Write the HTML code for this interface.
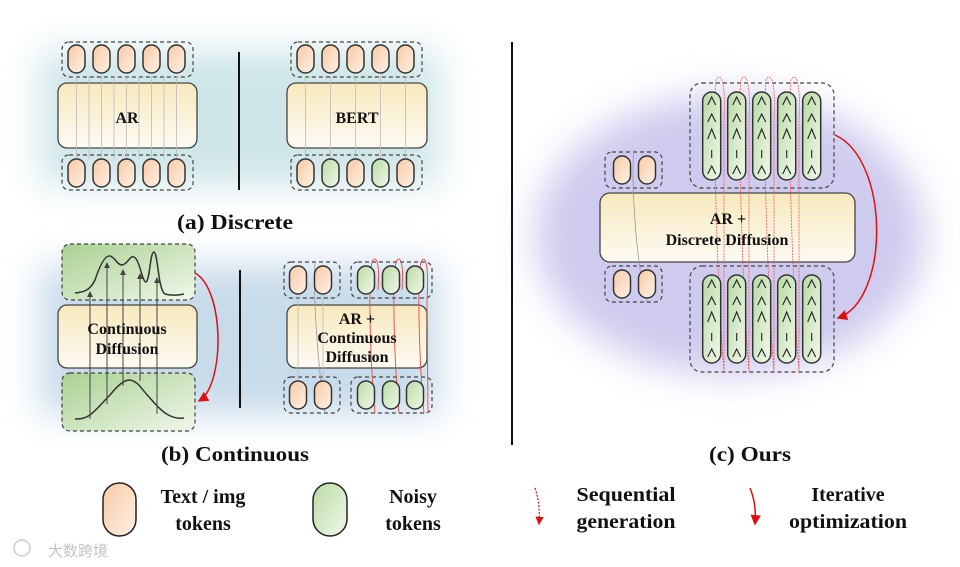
<!DOCTYPE html>
<html><head><meta charset="utf-8"><style>
html,body{margin:0;padding:0;background:#fff;}
svg{display:block;}
text{font-family:"Liberation Serif",serif;font-weight:bold;fill:#111;}
</style></head><body>
<svg width="960" height="567" viewBox="0 0 960 567" xmlns="http://www.w3.org/2000/svg">
<defs>
<filter id="blur" x="-50%" y="-50%" width="200%" height="200%"><feGaussianBlur stdDeviation="18"/></filter>
<linearGradient id="og" x1="0" y1="0" x2="1" y2="1"><stop offset="0" stop-color="#f9c9a3"/><stop offset="1" stop-color="#fdf1e8"/></linearGradient>
<linearGradient id="gg" x1="0" y1="0" x2="1" y2="1"><stop offset="0" stop-color="#b9dba3"/><stop offset="1" stop-color="#f1f8ec"/></linearGradient>
<linearGradient id="yb" x1="0" y1="0" x2="0" y2="1"><stop offset="0" stop-color="#f8e9bd"/><stop offset="1" stop-color="#fcfaf3"/></linearGradient>
<linearGradient id="gb" x1="0" y1="0" x2="1" y2="1"><stop offset="0" stop-color="#a9d191"/><stop offset="1" stop-color="#f0f7ea"/></linearGradient>
<g id="ot"><rect x="-8.5" y="0" width="17" height="28" rx="8.5" fill="url(#og)" stroke="#333" stroke-width="1.5"/></g>
<g id="gt"><rect x="-8.5" y="0" width="17" height="28" rx="8.5" fill="url(#gg)" stroke="#333" stroke-width="1.5"/></g>
<g id="lp"><rect x="-9" y="0" width="18" height="88" rx="9" fill="url(#gg)" stroke="#333" stroke-width="1.5"/>
<path d="M-4 13 L0 5 L4 13 M-4 30 L0 22 L4 30 M-4 47 L0 37 L4 47 M0 58 V66 M-4 82 L0 74 L4 82" fill="none" stroke="#222" stroke-width="1.1"/></g>
<marker id="ar" markerWidth="6" markerHeight="6" refX="5" refY="3" orient="auto"><path d="M0 0 L6 3 L0 6z" fill="#444"/></marker>
<marker id="rr" markerWidth="7" markerHeight="7" refX="6" refY="3.5" orient="auto"><path d="M0 0 L7 3.5 L0 7z" fill="#e01010"/></marker>
</defs>

<g filter="url(#blur)">
<rect x="40" y="50" width="400" height="135" fill="#cfe6e8"/>
<rect x="40" y="265" width="400" height="150" fill="#c8dbea"/>
<ellipse cx="730" cy="235" rx="195" ry="140" fill="#cfcbee"/>
</g>

<!-- (a) AR -->
<rect x="62" y="42" width="131" height="35" rx="7" fill="none" stroke="#444" stroke-width="1.2" stroke-dasharray="4,3"/>
<rect x="62" y="155" width="131" height="35" rx="7" fill="none" stroke="#444" stroke-width="1.2" stroke-dasharray="4,3"/>
<rect x="58" y="83" width="139" height="65" rx="9" fill="url(#yb)" stroke="#444" stroke-width="1.3"/>
<g stroke="#bbb" stroke-width="0.8"><line x1="76.5" y1="76" x2="76.5" y2="159"/><line x1="101.5" y1="76" x2="101.5" y2="159"/><line x1="126.5" y1="76" x2="126.5" y2="159"/><line x1="151.5" y1="76" x2="151.5" y2="159"/><line x1="176.5" y1="76" x2="176.5" y2="159"/>
<line x1="89" y1="76" x2="89" y2="159"/><line x1="114" y1="76" x2="114" y2="159"/><line x1="139" y1="76" x2="139" y2="159"/><line x1="164" y1="76" x2="164" y2="159"/></g>
<use href="#ot" x="76.5" y="45"/><use href="#ot" x="101.5" y="45"/><use href="#ot" x="126.5" y="45"/><use href="#ot" x="151.5" y="45"/><use href="#ot" x="176.5" y="45"/>
<use href="#ot" x="76.5" y="159"/><use href="#ot" x="101.5" y="159"/><use href="#ot" x="126.5" y="159"/><use href="#ot" x="151.5" y="159"/><use href="#ot" x="176.5" y="159"/>
<text x="127" y="123" font-size="16" text-anchor="middle">AR</text>
<line x1="239" y1="52" x2="239" y2="190" stroke="#111" stroke-width="2"/>

<!-- (a) BERT -->
<rect x="291" y="42" width="131" height="35" rx="7" fill="none" stroke="#444" stroke-width="1.2" stroke-dasharray="4,3"/>
<rect x="291" y="155" width="131" height="35" rx="7" fill="none" stroke="#444" stroke-width="1.2" stroke-dasharray="4,3"/>
<rect x="287" y="83" width="140" height="65" rx="9" fill="url(#yb)" stroke="#444" stroke-width="1.3"/>
<g stroke="#bbb" stroke-width="0.8"><line x1="305.5" y1="76" x2="305.5" y2="159"/><line x1="330.5" y1="76" x2="330.5" y2="159"/><line x1="355.5" y1="76" x2="355.5" y2="159"/><line x1="380.5" y1="76" x2="380.5" y2="159"/><line x1="405.5" y1="76" x2="405.5" y2="159"/></g>
<use href="#ot" x="305.5" y="45"/><use href="#ot" x="330.5" y="45"/><use href="#ot" x="355.5" y="45"/><use href="#ot" x="380.5" y="45"/><use href="#ot" x="405.5" y="45"/>
<use href="#ot" x="305.5" y="159"/><use href="#gt" x="330.5" y="159"/><use href="#ot" x="355.5" y="159"/><use href="#gt" x="380.5" y="159"/><use href="#ot" x="405.5" y="159"/>
<text x="357" y="123" font-size="16" text-anchor="middle">BERT</text>

<text x="235" y="229" font-size="21" text-anchor="middle" textLength="116" lengthAdjust="spacingAndGlyphs">(a)  Discrete</text>

<!-- (b) continuous -->
<rect x="62" y="244" width="133" height="56" rx="8" fill="url(#gb)" stroke="#444" stroke-width="1.2" stroke-dasharray="4,3"/>
<rect x="62" y="373" width="133" height="58" rx="8" fill="url(#gb)" stroke="#444" stroke-width="1.2" stroke-dasharray="4,3"/>
<rect x="58" y="305" width="139" height="63" rx="9" fill="url(#yb)" stroke="#444" stroke-width="1.3"/>
<path d="M75 293 C85 292 90 290 95 280 C100 265 105 255 110 256 C115 257 117 265 122 265 C128 264 130 255 134 257 C140 260 142 282 146 282 C150 280 150 252 154 252 C158 253 158 290 165 294 C172 296 180 295 184 294" fill="none" stroke="#333" stroke-width="1.5"/>
<path d="M75 419 C90 420 95 410 110 395 C118 385 124 380 130 380 C138 381 142 390 150 398 C160 410 170 420 184 418" fill="none" stroke="#333" stroke-width="1.5"/>
<g stroke="#444" stroke-width="1" marker-end="url(#ar)"><line x1="90" y1="419" x2="90" y2="292"/><line x1="107" y1="404" x2="107" y2="263"/><line x1="123" y1="386" x2="123" y2="270"/><line x1="140" y1="381" x2="140" y2="274"/><line x1="157" y1="414" x2="157" y2="278"/></g>
<text x="127" y="334" font-size="16" text-anchor="middle">Continuous</text>
<text x="127" y="354" font-size="16" text-anchor="middle">Diffusion</text>
<path d="M195 273 C225 290 225 385 199 401" fill="none" stroke="#e01010" stroke-width="1.5" marker-end="url(#rr)"/>
<line x1="240" y1="270" x2="240" y2="408" stroke="#111" stroke-width="2"/>

<!-- (b) AR+continuous -->
<rect x="284" y="262" width="56" height="36" rx="7" fill="none" stroke="#444" stroke-width="1.2" stroke-dasharray="4,3"/>
<rect x="351" y="262" width="81" height="36" rx="7" fill="none" stroke="#444" stroke-width="1.2" stroke-dasharray="4,3"/>
<rect x="284" y="377" width="56" height="36" rx="7" fill="none" stroke="#444" stroke-width="1.2" stroke-dasharray="4,3"/>
<rect x="351" y="377" width="81" height="36" rx="7" fill="none" stroke="#444" stroke-width="1.2" stroke-dasharray="4,3"/>
<rect x="287" y="305" width="140" height="63" rx="9" fill="url(#yb)" stroke="#444" stroke-width="1.3"/>
<g stroke="#bbb" stroke-width="0.8"><line x1="298" y1="296" x2="298" y2="380"/><line x1="323" y1="296" x2="323" y2="380"/></g>
<g fill="none" stroke="#e44" stroke-width="0.9"><path d="M375 413 C370 360 368 280 372 262 C376 254 380 262 378 290"/><path d="M399 413 C394 360 392 280 396 262 C400 254 404 262 402 290"/><path d="M424 413 C419 360 417 280 421 262 C425 254 429 262 427 300 L428 413"/></g>
<path d="M325 413 C317 360 313 290 315 262" fill="none" stroke="#999" stroke-width="0.8"/>
<use href="#ot" x="298" y="266"/><use href="#ot" x="323" y="266"/>
<use href="#gt" x="366" y="266"/><use href="#gt" x="391" y="266"/><use href="#gt" x="415" y="266"/>
<use href="#ot" x="298" y="381"/><use href="#ot" x="323" y="381"/>
<use href="#gt" x="366" y="381"/><use href="#gt" x="391" y="381"/><use href="#gt" x="415" y="381"/>
<text x="357" y="324" font-size="16" text-anchor="middle">AR +</text>
<text x="357" y="343" font-size="16" text-anchor="middle">Continuous</text>
<text x="357" y="362" font-size="16" text-anchor="middle">Diffusion</text>

<text x="235" y="461" font-size="21" text-anchor="middle" textLength="148" lengthAdjust="spacingAndGlyphs">(b)  Continuous</text>

<line x1="512" y1="42" x2="512" y2="445" stroke="#111" stroke-width="2"/>

<!-- (c) -->
<rect x="605" y="152" width="57" height="36" rx="7" fill="none" stroke="#444" stroke-width="1.2" stroke-dasharray="4,3"/>
<rect x="605" y="266" width="57" height="36" rx="7" fill="none" stroke="#444" stroke-width="1.2" stroke-dasharray="4,3"/>
<rect x="690" y="83" width="144" height="105" rx="12" fill="none" stroke="#444" stroke-width="1.2" stroke-dasharray="4,3"/>
<rect x="690" y="266" width="144" height="106" rx="12" fill="none" stroke="#444" stroke-width="1.2" stroke-dasharray="4,3"/>
<rect x="600" y="193" width="255" height="69" rx="10" fill="url(#yb)" stroke="#444" stroke-width="1.3"/>
<g fill="none" stroke="#e55" stroke-width="0.8" stroke-dasharray="2,1"><path d="M724 372 C718 300 712 120 716 80 C720 72 726 78 724 120 L724 372"/><path d="M749 372 C743 300 737 120 741 80 C745 72 751 78 749 120 L749 372"/><path d="M774 372 C768 300 762 120 766 80 C770 72 776 78 774 120 L774 372"/><path d="M799 372 C793 300 787 120 791 80 C795 72 801 78 799 120 L799 372"/></g>
<path d="M647 302 C638 280 630 180 634 150" fill="none" stroke="#999" stroke-width="0.8"/>
<use href="#ot" x="622" y="156"/><use href="#ot" x="647" y="156"/>
<use href="#ot" x="622" y="270"/><use href="#ot" x="647" y="270"/>
<use href="#lp" x="711.7" y="92"/><use href="#lp" x="736.7" y="92"/><use href="#lp" x="761.7" y="92"/><use href="#lp" x="786.7" y="92"/><use href="#lp" x="811.7" y="92"/>
<use href="#lp" x="711.7" y="275"/><use href="#lp" x="736.7" y="275"/><use href="#lp" x="761.7" y="275"/><use href="#lp" x="786.7" y="275"/><use href="#lp" x="811.7" y="275"/>
<text x="728" y="224" font-size="16" text-anchor="middle">AR +</text>
<text x="727" y="245" font-size="16" text-anchor="middle">Discrete Diffusion</text>
<path d="M835 135 C890 160 890 300 838 318" fill="none" stroke="#e01010" stroke-width="1.5" marker-end="url(#rr)"/>

<text x="750" y="461" font-size="21" text-anchor="middle" textLength="82" lengthAdjust="spacingAndGlyphs">(c)  Ours</text>

<!-- legend -->
<rect x="103" y="483" width="33" height="53" rx="16.5" fill="url(#og)" stroke="#222" stroke-width="1.5"/>
<text x="203" y="503" font-size="20" text-anchor="middle">Text / img</text>
<text x="203" y="530" font-size="20" text-anchor="middle">tokens</text>
<rect x="313" y="483" width="34" height="53" rx="17" fill="url(#gg)" stroke="#222" stroke-width="1.5"/>
<text x="413" y="503" font-size="20" text-anchor="middle">Noisy</text>
<text x="413" y="530" font-size="20" text-anchor="middle">tokens</text>
<path d="M535 488 C539 500 540 512 539 524" fill="none" stroke="#e01010" stroke-width="1.2" stroke-dasharray="2,1.5" marker-end="url(#rr)"/>
<text x="626" y="501" font-size="20" text-anchor="middle" textLength="99" lengthAdjust="spacingAndGlyphs">Sequential</text>
<text x="626" y="528" font-size="20" text-anchor="middle" textLength="99" lengthAdjust="spacingAndGlyphs">generation</text>
<path d="M750 488 C755 500 756 512 755 524" fill="none" stroke="#e01010" stroke-width="1.5" marker-end="url(#rr)"/>
<text x="848" y="501" font-size="20" text-anchor="middle">Iterative</text>
<text x="848" y="528" font-size="20" text-anchor="middle" textLength="118" lengthAdjust="spacingAndGlyphs">optimization</text>

<text x="48" y="556" font-size="15" style="fill:#c4c4c4;font-family:'Liberation Sans','Noto Sans CJK SC',sans-serif;font-weight:normal">大数跨境</text>
<circle cx="22" cy="548" r="8" fill="none" stroke="#ccc" stroke-width="1.5"/>
</svg>
</body></html>
